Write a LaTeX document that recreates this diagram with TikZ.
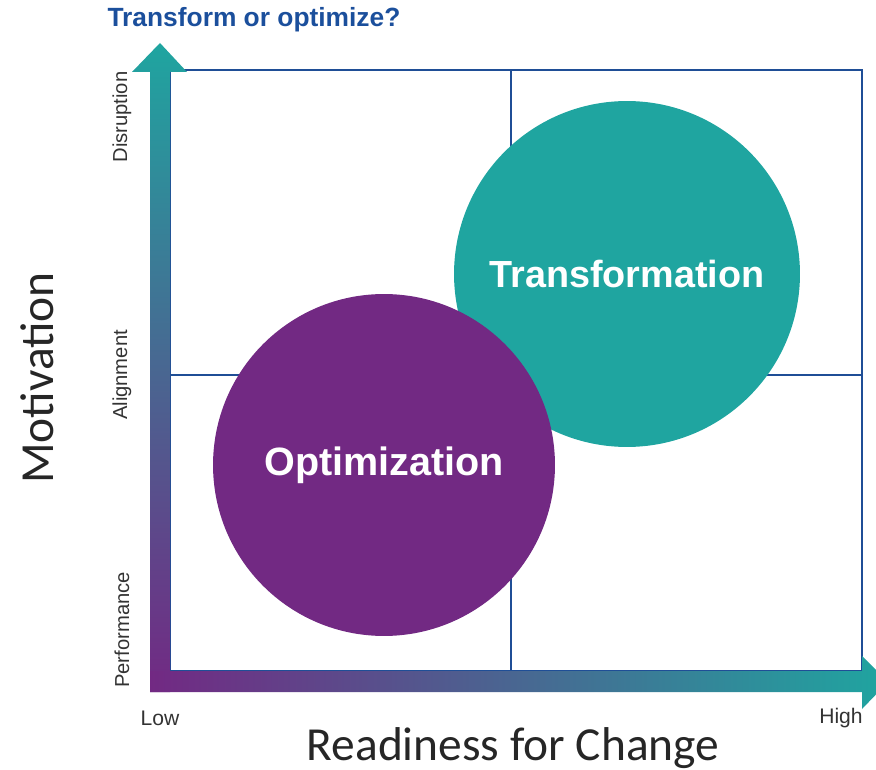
\documentclass[tikz,border=0pt]{standalone}
\usepackage{fontspec}
\setmainfont{Liberation Sans}
\newfontfamily\axisfont{Carlito}
\usetikzlibrary{arrows}
\definecolor{optpurple}{HTML}{722983}
\definecolor{trteal}{HTML}{1FA5A0}
\definecolor{gridblue}{HTML}{1F4E96}
\definecolor{titleblue}{HTML}{1B4F9C}
\tikzset{
	bub/.style = {circle, inner sep=0pt, text=white,
		font=\fontsize{21.5}{25}\selectfont\bfseries},
	bub_t/.style = {bub, fill=trteal, minimum size=6.92cm},
	bub_o/.style = {bub, fill=optpurple, minimum size=6.84cm,
		font=\fontsize{22.5}{26}\selectfont\bfseries},
	lvl/.style = {rotate=90, inner sep=0pt, font=\fontsize{11.5}{13}\selectfont, text=black!80},
	ends/.style = {inner sep=0pt, font=\fontsize{12}{14}\selectfont, text=black!80},
	ax_txt/.style = {inner sep=0pt, font=\axisfont\fontsize{27}{31}\selectfont, text=black!85},
	ttl/.style = {inner sep=0pt, text=titleblue, font=\fontsize{15}{17}\selectfont\bfseries},
	grid/.style = {draw=gridblue, line width=1.1pt}
}

\begin{document}
\begin{tikzpicture}[x=0.02cm, y=-0.02cm]
\useasboundingbox (0,0) rectangle (876,770);
% quadrant lines
\draw[grid] (170,70) rectangle (862,671);
\draw[grid] (511,70) -- (511,671);
\draw[grid] (170,375) -- (862,375);
% axes
\shade[bottom color=optpurple, top color=trteal]
	(150,692) -- (150,72) -- (132,72) -- (160,43) -- (187,72) -- (170,72) -- (170,692) -- cycle;
\shade[left color=optpurple, right color=trteal]
	(150,671) -- (862,671) -- (862,656) -- (888,682) -- (862,709) -- (862,692) -- (150,692) -- cycle;
% bubbles
\node[bub_t] (transf) at (627,274) {Transformation};
\node[bub_o] (optim) at (384,465) {Optimization};
% labels
\node[ttl] (title) at (254,20) {Transform or optimize?};
\node[lvl] (disrupt) at (122,117) {Disruption};
\node[lvl] (align) at (122,375) {Alignment};
\node[lvl] (perf) at (122,630) {Performance};
\node[ends] (low) at (160,718) {Low};
\node[ends] (high) at (841,718) {High};
\node[ax_txt, rotate=90] (motiv) at (37,378) {Motivation};
\node[ax_txt] (ready) at (513,748) {Readiness for Change};
\end{tikzpicture}
\end{document}
